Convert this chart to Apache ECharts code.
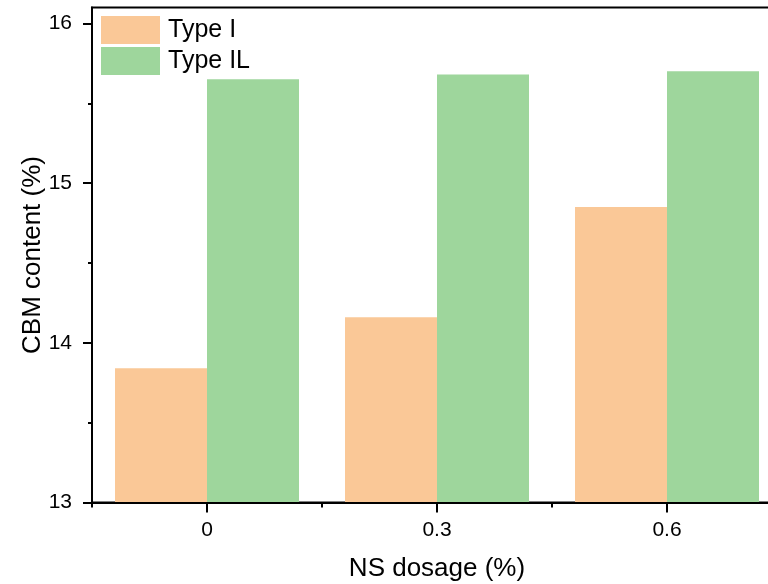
<!DOCTYPE html>
<html>
<head>
<meta charset="utf-8">
<script src="https://cdn.jsdelivr.net/npm/echarts@6/dist/echarts.min.js"></script>
<style>
html,body{margin:0;padding:0;background:#fff;}
#chart{width:768px;height:584px;}
</style>
</head>
<body>
<div id="chart"></div>
<script>
const categories = ["0", "0.3", "0.6"];
const typeI = [13.84, 14.16, 14.85];
const typeIL = [15.65, 15.68, 15.70];
const yTicks = [13, 14, 15, 16];
const yMinorTicks = [13.5, 14.5, 15.5];

const chart = echarts.init(document.getElementById('chart'), null, {renderer: 'canvas'});
const font = 'Liberation Sans, Arial, sans-serif';
chart.setOption({
  animation: false,
  backgroundColor: '#fff',
  textStyle: {fontFamily: font},
  legend: {
    orient: 'vertical',
    left: 96, top: 11,
    itemWidth: 59, itemHeight: 28, itemGap: 3,
    icon: 'rect',
    textStyle: {fontSize: 25, color: '#000', fontFamily: font, padding: [0,0,0,3]},
    data: ['Type I', 'Type IL']
  },
  grid: {left: 92, top: 7.5, width: 690, height: 495, show: true, borderColor: '#000', borderWidth: 2, containLabel: false, outerBoundsMode: 'none'},
  xAxis: [{
    type: 'category', data: categories, boundaryGap: true, position: 'bottom', z: 10,
    name: 'NS dosage (%)', nameLocation: 'middle', nameGap: 53, nameMoveOverlap: false,
    nameTextStyle: {fontSize: 26, color: '#000', fontFamily: font},
    axisLine: {show: true, onZero: false, lineStyle: {color: '#000', width: 2}},
    axisTick: {show: false},
    axisLabel: {show: true, interval: 0, fontSize: 21, color: '#000', margin: 17, fontFamily: font},
    splitLine: {show: false}
  }, {
    type: 'value', min: -0.5, max: 2.5, interval: 1, position: 'bottom', z: 10,
    axisLine: {show: false, onZero: false},
    axisTick: {show: true, length: 5, lineStyle: {color: '#000', width: 2}},
    axisLabel: {show: false}, splitLine: {show: false}
  }, {
    type: 'category', data: categories, boundaryGap: true, position: 'top', offset: -495, z: 10,
    axisLine: {show: false, onZero: false},
    axisTick: {show: true, interval: 0, alignWithLabel: true, inside: true, length: 10, lineStyle: {color: '#000', width: 2}},
    axisLabel: {show: false}, splitLine: {show: false}
  }],
  yAxis: [{
    type: 'value', min: 13, max: 16.1, interval: 1,
    name: 'CBM content (%)', nameLocation: 'middle', nameGap: 46, nameMoveOverlap: false,
    nameTextStyle: {fontSize: 26, color: '#000', fontFamily: font},
    axisLine: {show: true, onZero: false, lineStyle: {color: '#000', width: 2}},
    axisTick: {show: true, length: 9, customValues: yTicks, lineStyle: {color: '#000', width: 2}},
    axisLabel: {fontSize: 21, color: '#000', margin: 20, customValues: yTicks, fontFamily: font},
    splitLine: {show: false}
  }, {
    type: 'value', min: 13, max: 16.1, position: 'left',
    axisLine: {show: false, onZero: false},
    axisTick: {show: true, length: 4, customValues: yMinorTicks, lineStyle: {color: '#000', width: 2}},
    axisLabel: {show: false}, splitLine: {show: false}
  }],
  series: [{
    name: 'Type I', type: 'bar', data: typeI, xAxisIndex: 0, yAxisIndex: 0,
    barWidth: '40%', barGap: '0%',
    itemStyle: {color: '#FAC897'}
  }, {
    name: 'Type IL', type: 'bar', data: typeIL, xAxisIndex: 0, yAxisIndex: 0,
    barWidth: '40%', barGap: '0%',
    itemStyle: {color: '#9ED69C'}
  }]
});
</script>
</body>
</html>
